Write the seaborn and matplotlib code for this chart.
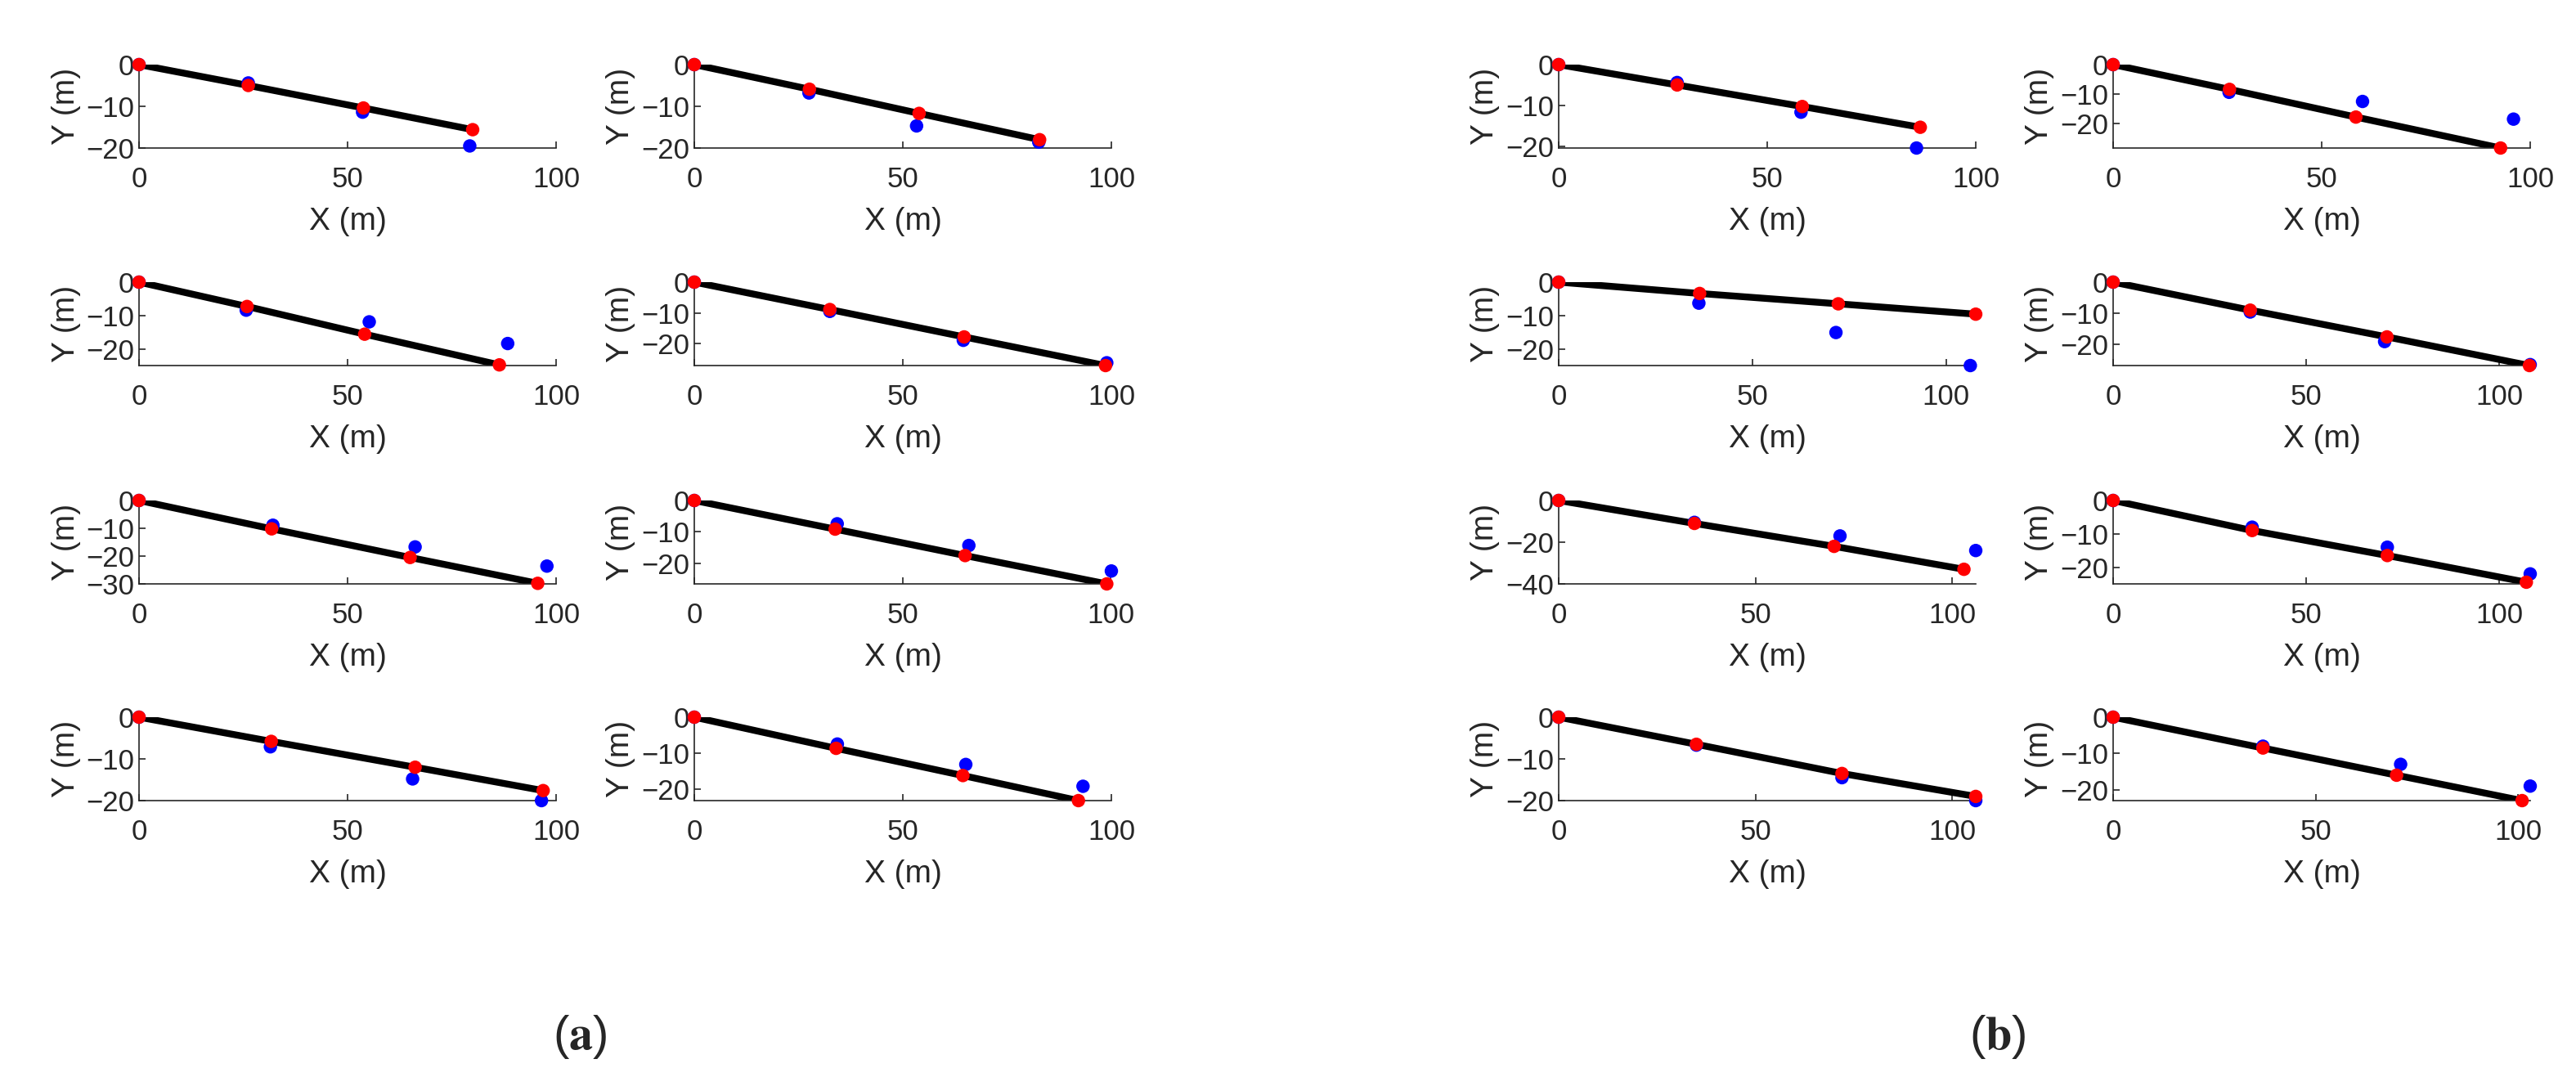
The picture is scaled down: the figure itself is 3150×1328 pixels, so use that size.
import pandas as pd
import seaborn as sns
import matplotlib.pyplot as plt
from matplotlib.ticker import MultipleLocator

# Panels are read row by row (row1 left, row1 right, row2 left, ...)
# red = points on the fitted line, blue = measured points

a_red_x = [[0, 26.2, 53.8, 80.0], [0, 27.6, 53.9, 82.8], [0, 25.9, 54.1, 86.4], [0, 32.5, 64.7, 98.6],
           [0, 31.8, 65.0, 95.6], [0, 33.8, 65.0, 99.0], [0, 31.7, 66.2, 96.9], [0, 34.0, 64.4, 92.1]]
a_red_y = [[0, -5.0, -10.4, -15.6], [0, -5.9, -11.7, -18.0], [0, -7.3, -15.6, -24.8], [0, -8.9, -17.8, -27.1],
           [0, -10.2, -20.5, -29.8], [0, -9.1, -17.5, -26.5], [0, -5.8, -12.0, -17.6], [0, -8.7, -16.3, -23.3]]
a_blue_x = [[0, 26.2, 53.6, 79.3], [0, 27.5, 53.3, 82.6], [0, 25.7, 55.2, 88.4], [0, 32.5, 64.5, 98.9],
            [0, 32.1, 66.2, 97.8], [0, 34.3, 65.9, 100.1], [0, 31.5, 65.6, 96.5], [0, 34.3, 65.1, 93.2]]
a_blue_y = [[0, -4.4, -11.4, -19.5], [0, -6.8, -14.7, -18.6], [0, -8.4, -11.9, -18.4], [0, -9.5, -18.9, -26.2],
            [0, -8.9, -16.7, -23.6], [0, -7.4, -14.3, -22.4], [0, -7.1, -14.8, -20.0], [0, -7.5, -13.2, -19.3]]
a_ybottom = [-20, -20, -25, -27.1, -30, -26.5, -20, -23.3]

b_red_x = [[0, 28.4, 58.4, 86.7], [0, 27.9, 58.2, 92.9], [0, 36.4, 72.2, 107.7], [0, 35.5, 70.9, 107.8],
           [0, 34.5, 70.0, 103.0], [0, 36.0, 71.0, 107.0], [0, 35.0, 72.0, 106.0], [0, 37.0, 70.0, 101.0]]
b_red_y = [[0, -5.0, -10.3, -15.4], [0, -8.4, -17.8, -28.3], [0, -3.4, -6.5, -9.6], [0, -9.0, -17.6, -26.8],
           [0, -11.0, -22.0, -33.0], [0, -9.0, -16.5, -24.5], [0, -6.5, -13.5, -19.0], [0, -8.5, -16.0, -23.0]]
b_blue_x = [[0, 28.4, 58.1, 85.8], [0, 27.8, 59.8, 96.0], [0, 36.2, 71.6, 106.3], [0, 35.5, 70.3, 108.0],
            [0, 34.5, 71.5, 106.0], [0, 36.0, 71.0, 108.0], [0, 35.0, 72.0, 106.0], [0, 37.0, 71.0, 103.0]]
b_blue_y = [[0, -4.4, -11.7, -20.5], [0, -9.4, -12.5, -18.5], [0, -6.3, -15.1, -25.0], [0, -9.6, -19.1, -26.5],
            [0, -10.5, -17.0, -24.0], [0, -8.0, -14.0, -22.0], [0, -6.7, -14.5, -20.0], [0, -8.0, -13.0, -19.0]]
b_ybottom = [-20.5, -28.3, -25, -26.8, -40, -25, -20, -23]

groups = [(a_red_x, a_red_y, a_blue_x, a_blue_y, a_ybottom, "a"),
          (b_red_x, b_red_y, b_blue_x, b_blue_y, b_ybottom, "b")]

sns.set_style("white")
plt.rcParams["font.family"] = ["Liberation Sans", "DejaVu Sans"]
plt.rcParams["mathtext.fontset"] = "stix"

W, H = 3150, 1328
fig = plt.figure(figsize=(W / 100, H / 100), dpi=100)

# axes boxes in pixels
col_left = [170, 849, 1906, 2584]
col_w = 510
row_top = [79, 345, 612, 877]
row_h = 102
dark = "#262626"

for g, (rx_all, ry_all, bx_all, by_all, ybot, tag) in enumerate(groups):
    for i in range(8):
        r, c = i // 2, g * 2 + i % 2
        ax = fig.add_axes([col_left[c] / W, 1 - (row_top[r] + row_h) / H, col_w / W, row_h / H])
        line = pd.DataFrame({"x": rx_all[i], "y": ry_all[i]})
        sns.lineplot(data=line, x="x", y="y", color="black", lw=6, sort=False, ax=ax, zorder=2)
        sns.scatterplot(x=bx_all[i], y=by_all[i], color="blue", s=140, edgecolor="none",
                        ax=ax, clip_on=False, zorder=3)
        sns.scatterplot(x=rx_all[i], y=ry_all[i], color="red", s=140, edgecolor="none",
                        ax=ax, clip_on=False, zorder=4)
        xmax = max(100, max(rx_all[i]), max(bx_all[i]))
        ax.set_xlim(0, xmax)
        ax.set_ylim(ybot[i], 0)
        ax.xaxis.set_major_locator(MultipleLocator(50))
        ax.yaxis.set_major_locator(MultipleLocator(20 if ybot[i] < -35 else 10))
        sns.despine(ax=ax)
        for s in ["left", "bottom"]:
            ax.spines[s].set_linewidth(1.2)
            ax.spines[s].set_color(dark)
        ax.tick_params(direction="in", length=6, width=1.2, colors=dark, labelsize=25,
                       bottom=True, left=True)
        ax.tick_params(axis="x", pad=16)
        ax.tick_params(axis="y", pad=4)
        ax.set_xlabel("X (m)", fontsize=28, color=dark, labelpad=12)
        ax.set_ylabel("Y (m)", fontsize=28, color=dark, labelpad=5)

fig.text(709 / W, 1 - 1268 / H, r"($\mathbf{a}$)", ha="center", va="center", fontsize=42)
fig.text(2443 / W, 1 - 1268 / H, r"($\mathbf{b}$)", ha="center", va="center", fontsize=42)

fig.savefig("out.png", dpi=100, facecolor="white")
